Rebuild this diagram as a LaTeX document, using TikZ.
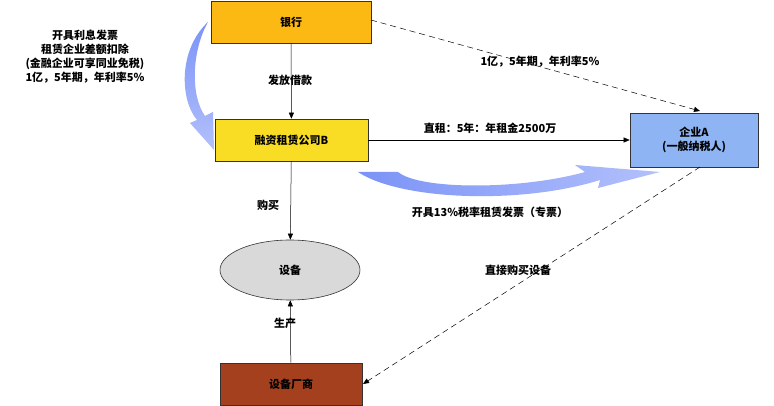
\documentclass[tikz,border=0pt]{standalone}
\usepackage{fontspec}
\setmainfont{Noto Sans CJK SC}
\usetikzlibrary{arrows.meta,shapes.geometric}
\definecolor{bankc}{HTML}{FDB913}
\definecolor{bc}{HTML}{F9DC24}
\definecolor{ac}{HTML}{8EB4F4}
\definecolor{devc}{HTML}{D9D9D9}
\definecolor{facc}{HTML}{A5401F}
\definecolor{bl1}{HTML}{7B93F7}
\definecolor{bl2}{HTML}{B3C0FB}
\begin{document}
\begin{tikzpicture}[x=1pt,y=-1pt,font=\bfseries\fontsize{11}{14}\selectfont,
  box/.style={draw=black!80,line width=0.6pt,minimum height=42pt},
  lab/.style={inner sep=1pt},
  arr/.style={-{Triangle[length=6pt,width=5pt]},line width=0.5pt},
  darr/.style={arr,dash pattern=on 6pt off 4pt}]
\useasboundingbox (0,0) rectangle (774,406);
\node[box,fill=bankc,minimum width=160pt] (bank) at (291,22) {银行};
\node[box,fill=bc,minimum width=153pt] (B) at (291.5,140) {融资租赁公司B};
\node[box,fill=ac,minimum width=128pt,minimum height=54pt,align=center] (A) at (694,140) {企业A\\(一般纳税人)};
\node[draw=black!80,line width=0.6pt,fill=devc,ellipse,minimum width=140pt,minimum height=60pt] (dev) at (290,270) {设备};
\node[box,fill=facc,minimum width=142pt] (fac) at (291,384) {设备厂商};
\coordinate (bankr) at (371,20);
\coordinate (atop) at (700,111);
\coordinate (abot) at (700,167);
\coordinate (facr) at (363,384);
\draw[arr] (bank) -- (B);
\draw[arr] (B) -- (dev);
\draw[arr] (fac) -- (dev);
\draw[arr] (B.east) -- (A.west);
\draw[darr] (bankr) -- (atop);
\draw[darr] (abot) -- (facr);
\node[lab] (l1) at (290,80) {发放借款};
\node[lab] (l2) at (268,205) {购买};
\node[lab] (l3) at (285,323) {生产};
\node[lab] (l4) at (540,62) {1亿，5年期，年利率5\%};
\node[lab] (l5) at (490,128) {直租：5年：年租金2500万};
\node[lab] (l6) at (490,212) {开具13\%税率租赁发票（专票）};
\node[lab] (l7) at (518,270) {直接购买设备};
\node[lab,align=center] (l8) at (85,57) {开具利息发票\\租赁企业差额扣除\\(金融企业可享同业免税)\\1亿，5年期，年利率5\%};
\shade[top color=bl1,bottom color=bl2] (208,22) .. controls (178,50) and (180,100) .. (197,120) -- (190,123) -- (214,150) -- (213,112) -- (205,116) .. controls (190,95) and (192,50) .. (208,22) -- cycle;
\shade[left color=bl1,right color=bl2] (358,172) .. controls (400,200) and (520,205) .. (600,180) -- (598,188) -- (660,172) -- (575,165) -- (585,172) .. controls (520,190) and (420,190) .. (398,172) -- cycle;
\end{tikzpicture}
\end{document}
